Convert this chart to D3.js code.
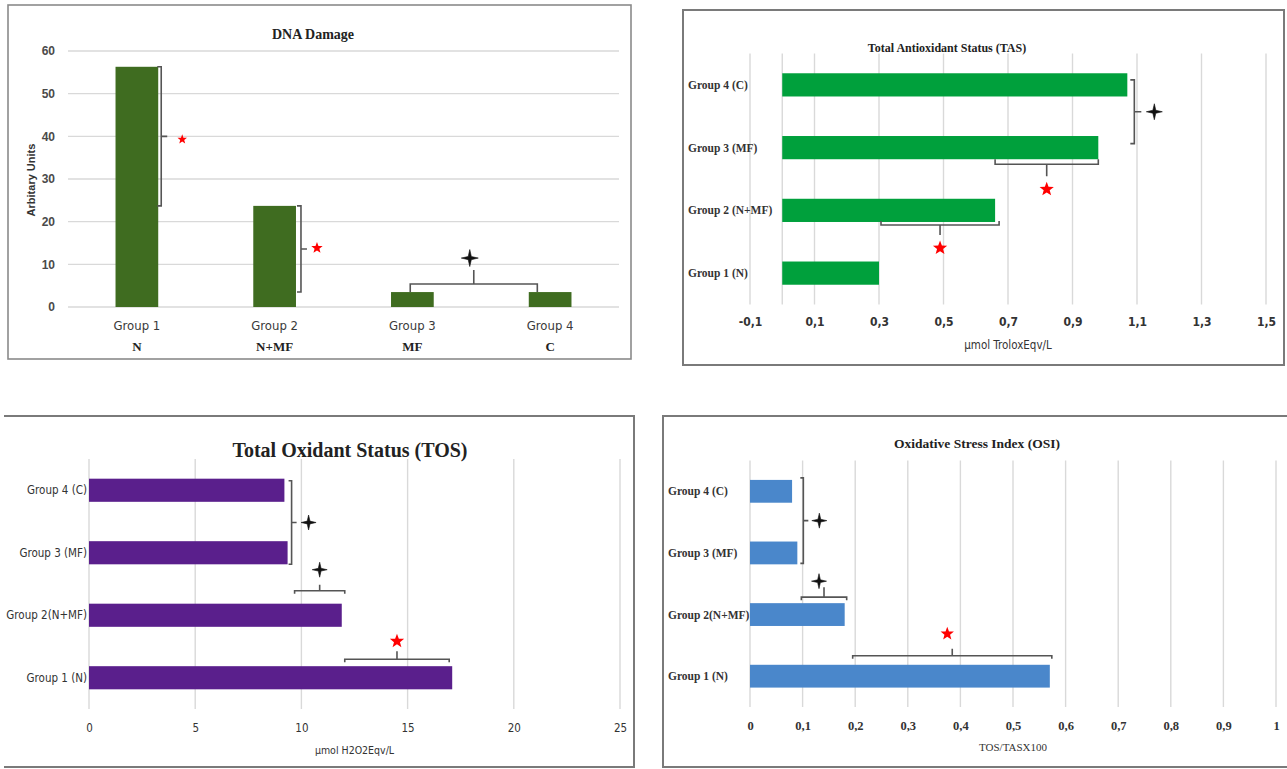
<!DOCTYPE html>
<html>
<head>
<meta charset="utf-8">
<script src="https://cdn.jsdelivr.net/npm/d3@7"></script>
<style>
  body { margin: 0; background: #fff; }
  svg { display: block; }
</style>
</head>
<body>
<svg id="chart" width="1287" height="769"></svg>
<script>
// ---------- data ----------
const dnaCategories = ["Group 1", "Group 2", "Group 3", "Group 4"];
const dnaSubLabels = ["N", "N+MF", "MF", "C"];
const dnaValues = [56.3, 23.7, 3.5, 3.5];
const dnaTicks = [0, 10, 20, 30, 40, 50, 60];

const tasCategories = ["Group 1 (N)", "Group 2 (N+MF)", "Group 3 (MF)", "Group 4 (C)"];
const tasValues = [0.30, 0.66, 0.98, 1.07];
const tasTicks = [-0.1, 0.1, 0.3, 0.5, 0.7, 0.9, 1.1, 1.3, 1.5];

const tosCategories = ["Group 1 (N)", "Group 2(N+MF)", "Group 3  (MF)", "Group 4  (C)"];
const tosValues = [17.1, 11.9, 9.35, 9.2];
const tosTicks = [0, 5, 10, 15, 20, 25];

const osiCategories = ["Group 1 (N)", "Group 2(N+MF)", "Group 3 (MF)", "Group 4 (C)"];
const osiValues = [0.57, 0.18, 0.09, 0.08];
const osiTicks = [0, 0.1, 0.2, 0.3, 0.4, 0.5, 0.6, 0.7, 0.8, 0.9, 1];

// ---------- shared styling ----------
const NARROW = "'Liberation Sans Narrow','DejaVu Sans Condensed','Arial Narrow',sans-serif";
const SANS = "'Liberation Sans',Arial,sans-serif";
const SERIF = "'Liberation Serif','Times New Roman',serif";
const GRID = "#d9d9d9";
const BRACKET = "#555";
const RED = "#ff0000";

const locale = d3.formatLocale({ decimal: ",", thousands: ".", grouping: [3], currency: ["", ""], minus: "-" });
const fmtComma1 = locale.format(".1f");
const fmtCommaG = locale.format("~g");

const svg = d3.select("#chart");
svg.append("rect").attr("width", 1287).attr("height", 769).attr("fill", "#fff");

// star helpers: five-point significance star and four-point cross star
function starPath(cx, cy, R, n, inner) {
  const pts = [];
  for (let k = 0; k < n * 2; k++) {
    const r = k % 2 === 0 ? R : R * inner;
    const a = -Math.PI / 2 + k * Math.PI / n;
    pts.push([cx + r * Math.cos(a), cy + r * Math.sin(a)]);
  }
  return "M" + pts.map(p => p[0].toFixed(2) + "," + p[1].toFixed(2)).join("L") + "Z";
}
function redStar(g, cx, cy, R) {
  g.append("path").attr("d", starPath(cx, cy, R, 5, 0.42)).attr("fill", RED);
}
function crossStar(g, cx, cy, R) {
  g.append("path").attr("d", starPath(cx, cy, R, 4, 0.26)).attr("fill", "#111")
    .attr("stroke", "#111").attr("stroke-width", 0.6).attr("stroke-linejoin", "round");
}
function bracketPath(g, d) {
  g.append("path").attr("d", d).attr("fill", "none")
    .attr("stroke", BRACKET).attr("stroke-width", 1.6);
}

// ---------- Panel 1: DNA Damage (vertical bars) ----------
(function () {
  const g = svg.append("g");
  g.append("rect").attr("x", 8).attr("y", 5).attr("width", 623).attr("height", 354)
    .attr("fill", "none").attr("stroke", "#8a8a8a").attr("stroke-width", 1.6);
  g.append("text").attr("x", 313).attr("y", 34).attr("dy", "0.35em")
    .attr("text-anchor", "middle").attr("font-family", SERIF).attr("font-weight", "bold")
    .attr("font-size", 14).attr("fill", "#222").text("DNA Damage");

  const y = d3.scaleLinear().domain([0, 60]).range([307, 51]);
  const x = d3.scaleBand().domain(dnaCategories).range([68, 619]).paddingInner(0.69).paddingOuter(0.345);
  const bw = x.bandwidth();

  g.selectAll("line.grid").data(dnaTicks).join("line")
    .attr("x1", 68).attr("x2", 619).attr("y1", d => y(d)).attr("y2", d => y(d))
    .attr("stroke", GRID).attr("stroke-width", 1.4);

  g.selectAll("rect.bar").data(dnaValues).join("rect")
    .attr("x", (d, i) => x(dnaCategories[i])).attr("width", bw)
    .attr("y", d => y(d)).attr("height", d => y(0) - y(d))
    .attr("fill", "#3f6c20");

  const ax = g.append("g").attr("transform", "translate(58,0)")
    .call(d3.axisLeft(y).tickValues(dnaTicks).tickSize(0).tickPadding(3));
  ax.select(".domain").remove();
  ax.selectAll("text").attr("font-family", SANS).attr("font-weight", "bold")
    .attr("font-size", 12).attr("fill", "#4a4a4a");

  g.selectAll("text.cat").data(dnaCategories).join("text")
    .attr("x", d => x(d) + bw / 2).attr("y", 325).attr("dy", "0.35em")
    .attr("text-anchor", "middle").attr("font-family", NARROW).attr("font-size", 13)
    .attr("fill", "#3a3a3a").text(d => d);
  g.selectAll("text.sub").data(dnaSubLabels).join("text")
    .attr("x", (d, i) => x(dnaCategories[i]) + bw / 2).attr("y", 346).attr("dy", "0.35em")
    .attr("text-anchor", "middle").attr("font-family", SERIF).attr("font-weight", "bold")
    .attr("font-size", 13).attr("fill", "#222").text(d => d);

  g.append("text").attr("transform", "translate(31,180) rotate(-90)").attr("dy", "0.35em")
    .attr("text-anchor", "middle").attr("font-family", SANS).attr("font-weight", "bold")
    .attr("font-size", 11).attr("fill", "#333").text("Arbitary Units");

  // Group 1 vs Group 2
  let xl = x(dnaCategories[0]) + bw + 3;
  let yT = y(dnaValues[0]), yB = y(dnaValues[1]), ym = (yT + yB) / 2;
  bracketPath(g, `M${xl - 4},${yT}H${xl}V${yB}H${xl - 4}M${xl},${ym}H${xl + 6}`);
  redStar(g, xl + 21, ym + 3, 5);
  // Group 2 vs Group 3
  xl = x(dnaCategories[1]) + bw + 5;
  yT = y(dnaValues[1]); yB = y(dnaValues[2]); ym = (yT + yB) / 2;
  bracketPath(g, `M${xl - 4},${yT}H${xl}V${yB}H${xl - 4}M${xl},${ym}H${xl + 6}`);
  redStar(g, xl + 16, ym - 1, 6);
  // Group 3 vs Group 4
  const yb = y(Math.max(dnaValues[2], dnaValues[3])) - 8;
  const xa = x(dnaCategories[2]) + bw * 0.45, xbb = x(dnaCategories[3]) + bw * 0.2;
  const xm = (xa + xbb) / 2;
  bracketPath(g, `M${xa},${yb + 8}V${yb}H${xbb}V${yb + 8}M${xm},${yb}V${yb - 14}`);
  crossStar(g, xm - 4, yb - 26, 8.5);
})();

// ---------- horizontal bar panel helper ----------
function hPanel(g, o) {
  const x = d3.scaleLinear().domain(o.domain).range(o.xr);
  const order = o.cats.map((c, i) => i).reverse();
  const y = d3.scaleBand().domain(order).range(o.yr).paddingInner(0.63).paddingOuter(0.315);
  const bw = y.bandwidth();

  const gridVals = o.ticks.slice();
  if (o.domain[0] < 0) gridVals.push(0);
  g.selectAll("line.grid").data(gridVals).join("line")
    .attr("x1", d => x(d)).attr("x2", d => x(d))
    .attr("y1", o.yr[0]).attr("y2", o.yr[1])
    .attr("stroke", GRID).attr("stroke-width", 1.4);

  g.selectAll("rect.bar").data(o.vals).join("rect")
    .attr("x", x(0)).attr("width", d => x(d) - x(0))
    .attr("y", (d, i) => y(i)).attr("height", bw)
    .attr("fill", o.color);

  g.selectAll("text.cat").data(o.cats).join("text")
    .attr("x", o.labelX).attr("y", (d, i) => y(i) + bw / 2).attr("dy", "0.35em")
    .attr("text-anchor", o.labelAnchor)
    .attr("font-family", o.labelFont).attr("font-weight", o.labelWeight)
    .attr("font-size", o.labelSize).attr("fill", "#333").text(d => d);

  const ax = g.append("g").attr("transform", `translate(0,${o.tickY})`)
    .call(d3.axisBottom(x).tickValues(o.ticks).tickFormat(o.fmt).tickSize(0).tickPadding(0));
  ax.select(".domain").remove();
  ax.selectAll("text").attr("dy", "0.35em").attr("font-family", o.tickFont)
    .attr("font-weight", o.tickWeight).attr("font-size", o.tickSize).attr("fill", "#333");

  g.append("text").attr("x", o.titleX).attr("y", o.titleY).attr("dy", "0.35em")
    .attr("text-anchor", "middle").attr("font-family", SERIF).attr("font-weight", "bold")
    .attr("font-size", o.titleSize).attr("fill", "#222").text(o.title);

  g.append("text").attr("x", (o.xr[0] + o.xr[1]) / 2).attr("y", o.axisTitleY).attr("dy", "0.35em")
    .attr("text-anchor", "middle").attr("font-family", o.axisTitleFont)
    .attr("font-size", o.axisTitleSize).attr("fill", "#333").text(o.axisTitle);

  return { x, y, bw };
}

// ---------- Panel 2: Total Antioxidant Status ----------
(function () {
  const g = svg.append("g");
  g.append("rect").attr("x", 683).attr("y", 10).attr("width", 601).attr("height", 355)
    .attr("fill", "none").attr("stroke", "#7a7a7a").attr("stroke-width", 2);
  const { x, y, bw } = hPanel(g, {
    cats: tasCategories, vals: tasValues, ticks: tasTicks, domain: [-0.1, 1.5],
    xr: [750, 1266], yr: [53.5, 304.5], color: "#00a03c",
    labelX: 688, labelAnchor: "start", labelFont: SERIF, labelWeight: "bold", labelSize: 11.5,
    tickY: 322, fmt: fmtComma1, tickFont: NARROW, tickWeight: "bold", tickSize: 12,
    title: "Total Antioxidant Status (TAS)", titleX: 947, titleY: 48, titleSize: 12,
    axisTitle: "µmol TroloxEqv/L", axisTitleY: 345, axisTitleFont: NARROW, axisTitleSize: 11.5
  });
  const v = tasValues;
  // Group 4 vs Group 3
  const xv = x(Math.max(v[3], v[2])) + 7;
  const yT = y(3) + bw / 2 - 5, yB = y(2) + bw / 2 - 4, ym = (yT + yB) / 2;
  bracketPath(g, `M${xv - 4},${yT}H${xv}V${yB}H${xv - 4}M${xv},${ym}H${xv + 7}`);
  crossStar(g, xv + 20, ym, 8);
  // Group 3 vs Group 2
  let yb = y(2) + bw + 5, xa = x(v[1]), xb = x(v[2]), xm = (xa + xb) / 2;
  bracketPath(g, `M${xa},${yb - 5}V${yb}H${xb}V${yb - 5}M${xm},${yb}V${yb + 12}`);
  redStar(g, xm, yb + 25, 7.5);
  // Group 2 vs Group 1
  yb = y(1) + bw + 3; xa = x(v[0]) + 2; xb = x(v[1]) + 4; xm = (xa + xb) / 2;
  bracketPath(g, `M${xa},${yb - 4}V${yb}H${xb}V${yb - 4}M${xm},${yb}V${yb + 10}`);
  redStar(g, xm, yb + 23, 7.5);
})();

// ---------- Panel 3: Total Oxidant Status ----------
(function () {
  const g = svg.append("g");
  g.append("path").attr("d", "M4,416H634V767H4").attr("fill", "none")
    .attr("stroke", "#7a7a7a").attr("stroke-width", 2);
  const { x, y, bw } = hPanel(g, {
    cats: tosCategories, vals: tosValues, ticks: tosTicks, domain: [0, 25],
    xr: [89, 620], yr: [459, 709], color: "#5a1f8c",
    labelX: 87, labelAnchor: "end", labelFont: NARROW, labelWeight: "normal", labelSize: 11.5,
    tickY: 728, fmt: d3.format("d"), tickFont: NARROW, tickWeight: "normal", tickSize: 11.5,
    title: "Total Oxidant Status (TOS)", titleX: 350, titleY: 450, titleSize: 20,
    axisTitle: "µmol H2O2Eqv/L", axisTitleY: 750, axisTitleFont: NARROW, axisTitleSize: 10.5
  });
  const v = tosValues;
  // Group 4 vs Group 3
  const xv = x(Math.max(v[3], v[2])) + 4;
  const yT = y(3) + 2, yB = y(2) + bw, ym = (yT + yB) / 2;
  bracketPath(g, `M${xv - 3},${yT}H${xv}V${yB}H${xv - 3}M${xv},${ym}H${xv + 5}`);
  crossStar(g, xv + 17, ym, 7.5);
  // Group 3 vs Group 2
  let yb = y(1) - 13, xa = x(v[2]) + 7, xb = x(v[1]) + 3, xm = (xa + xb) / 2;
  bracketPath(g, `M${xa},${yb + 3}V${yb}H${xb}V${yb + 3}M${xm},${yb}V${yb - 6}`);
  crossStar(g, xm, yb - 21, 7.5);
  // Group 2 vs Group 1
  yb = y(0) - 7; xa = x(v[1]) + 3; xb = x(v[0]) - 3; xm = (xa + xb) / 2;
  bracketPath(g, `M${xa},${yb + 3}V${yb}H${xb}V${yb + 3}M${xm},${yb}V${yb - 8}`);
  redStar(g, xm, yb - 18, 7.5);
})();

// ---------- Panel 4: Oxidative Stress Index ----------
(function () {
  const g = svg.append("g");
  g.append("path").attr("d", "M1290,416H663V767H1290").attr("fill", "none")
    .attr("stroke", "#7a7a7a").attr("stroke-width", 2);
  const { x, y, bw } = hPanel(g, {
    cats: osiCategories, vals: osiValues, ticks: osiTicks, domain: [0, 1],
    xr: [750, 1276], yr: [460.5, 707], color: "#4a87cb",
    labelX: 668, labelAnchor: "start", labelFont: SERIF, labelWeight: "bold", labelSize: 11.5,
    tickY: 726, fmt: fmtCommaG, tickFont: SERIF, tickWeight: "bold", tickSize: 12.5,
    title: "Oxidative Stress Index (OSI)", titleX: 977, titleY: 443, titleSize: 13.5,
    axisTitle: "TOS/TASX100", axisTitleY: 747, axisTitleFont: SERIF, axisTitleSize: 11
  });
  const v = osiValues;
  // Group 4 vs Group 3
  const xv = x(Math.max(v[3], v[2])) + 6;
  const yT = y(3) - 2, yB = y(2) + bw - 1, ym = (yT + yB) / 2;
  bracketPath(g, `M${xv - 3},${yT}H${xv}V${yB}H${xv - 3}M${xv},${ym}H${xv + 5}`);
  crossStar(g, xv + 16, ym, 7.5);
  // Group 3 vs Group 2
  let yb = y(1) - 6, xa = x(v[2]) + 4, xb = x(v[1]) + 2, xm = (xa + xb) / 2;
  bracketPath(g, `M${xa},${yb + 3}V${yb}H${xb}V${yb + 3}M${xm},${yb}V${yb - 10}`);
  crossStar(g, xm - 5, yb - 16, 7.5);
  // Group 2 vs Group 1
  yb = y(0) - 9; xa = x(v[1]) + 8; xb = x(v[0]) + 2; xm = (xa + xb) / 2;
  bracketPath(g, `M${xa},${yb + 3}V${yb}H${xb}V${yb + 3}M${xm},${yb}V${yb - 7}`);
  redStar(g, xm - 5, yb - 22, 7);
})();
</script>
</body>
</html>
